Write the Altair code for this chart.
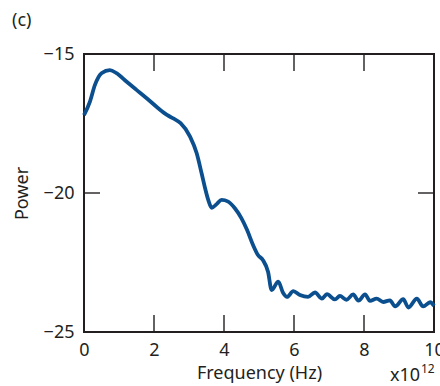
import altair as alt
import pandas as pd

# Power spectrum (log power) against frequency, in units of 1e12 Hz
freq = [0, 0.17, 0.31, 0.5, 0.74, 0.93, 1.22, 1.5, 1.79, 2.12,
        2.37, 2.55, 2.76, 3.03, 3.22, 3.36, 3.46, 3.55, 3.65, 3.79,
        3.93, 4.12, 4.31, 4.5, 4.66, 4.83, 4.97, 5.11, 5.26, 5.36,
        5.55, 5.69, 5.8, 5.98, 6.17, 6.4, 6.6, 6.8, 6.94, 7.17,
        7.31, 7.5, 7.69, 7.84, 8.03, 8.17, 8.36, 8.55, 8.74, 8.89,
        9.12, 9.27, 9.51, 9.69, 9.89, 10]
power = [-17.2, -16.71, -16.12, -15.69, -15.58, -15.69, -16.0, -16.29, -16.59, -16.95,
         -17.19, -17.32, -17.49, -17.97, -18.57, -19.29, -19.83, -20.25, -20.53, -20.4,
         -20.25, -20.31, -20.55, -20.91, -21.33, -21.87, -22.23, -22.41, -22.84, -23.49,
         -23.19, -23.6, -23.74, -23.53, -23.67, -23.74, -23.58, -23.8, -23.64, -23.83,
         -23.7, -23.84, -23.65, -23.87, -23.65, -23.88, -23.8, -23.92, -23.86, -24.08,
         -23.82, -24.12, -23.8, -24.08, -23.93, -24.06]

x_ticks = [0, 2, 4, 6, 8, 10]
y_ticks = [-25, -20, -15]
x_inner_ticks = [2, 4, 6, 8]
y_inner_ticks = [-20]

W, H = 350, 278
FONT = "Noto Sans"
INK = "#231f20"
BLUE = "#0b4f8f"

df = pd.DataFrame({"freq": freq, "power": power})
xt = pd.DataFrame({"v": x_inner_ticks})
yt = pd.DataFrame({"v": y_inner_ticks})

xscale = alt.Scale(domain=[0, 10], nice=False)
yscale = alt.Scale(domain=[-25, -15], nice=False)

line = alt.Chart(df).mark_line(color=BLUE, strokeWidth=3.8, interpolate="monotone").encode(
    x=alt.X("freq:Q", scale=xscale,
            axis=alt.Axis(values=x_ticks, title="Frequency (Hz)", titlePadding=5,
                          labelFlush=False, labelOverlap=False, labelPadding=9)),
    y=alt.Y("power:Q", scale=yscale,
            axis=alt.Axis(values=y_ticks, title="Power", titlePadding=12,
                          labelFlush=False, labelOverlap=False, labelPadding=10)),
)

tick_style = dict(color=INK, strokeWidth=1.4)
bottom_ticks = alt.Chart(xt).mark_rule(**tick_style).encode(
    x=alt.X("v:Q", scale=xscale), y=alt.value(H), y2=alt.value(H - 17))
top_ticks = alt.Chart(xt).mark_rule(**tick_style).encode(
    x=alt.X("v:Q", scale=xscale), y=alt.value(0), y2=alt.value(17))
left_ticks = alt.Chart(yt).mark_rule(**tick_style).encode(
    y=alt.Y("v:Q", scale=yscale), x=alt.value(0), x2=alt.value(16))
right_ticks = alt.Chart(yt).mark_rule(**tick_style).encode(
    y=alt.Y("v:Q", scale=yscale), x=alt.value(W), x2=alt.value(W - 16))

panel = alt.Chart(pd.DataFrame({"t": ["(c)"]})).mark_text(
    font=FONT, fontSize=18, color=INK, align="left", baseline="alphabetic").encode(
    text="t:N", x=alt.value(-72), y=alt.value(-28))
exp_base = alt.Chart(pd.DataFrame({"t": ["x10"]})).mark_text(
    font=FONT, fontSize=18, color=INK, align="left", baseline="alphabetic").encode(
    text="t:N", x=alt.value(306), y=alt.value(49 + H))
exp_pow = alt.Chart(pd.DataFrame({"t": ["12"]})).mark_text(
    font=FONT, fontSize=12, color=INK, align="left", baseline="alphabetic").encode(
    text="t:N", x=alt.value(337), y=alt.value(41 + H))

chart = alt.layer(
    line, bottom_ticks, top_ticks, left_ticks, right_ticks, panel, exp_base, exp_pow
).properties(
    width=W, height=H,
    autosize=alt.AutoSizeParams(type="none"),
    padding={"left": 84, "top": 54, "right": 6, "bottom": 54},
).configure_view(
    stroke=INK, strokeWidth=2
).configure_axis(
    grid=False, domain=False, ticks=False,
    labelFont=FONT, labelFontSize=18, labelColor=INK,
    titleFont=FONT, titleFontSize=18, titleFontWeight="normal", titleColor=INK,
)

chart.save("out.html", embed_options={"renderer": "svg", "actions": False})
